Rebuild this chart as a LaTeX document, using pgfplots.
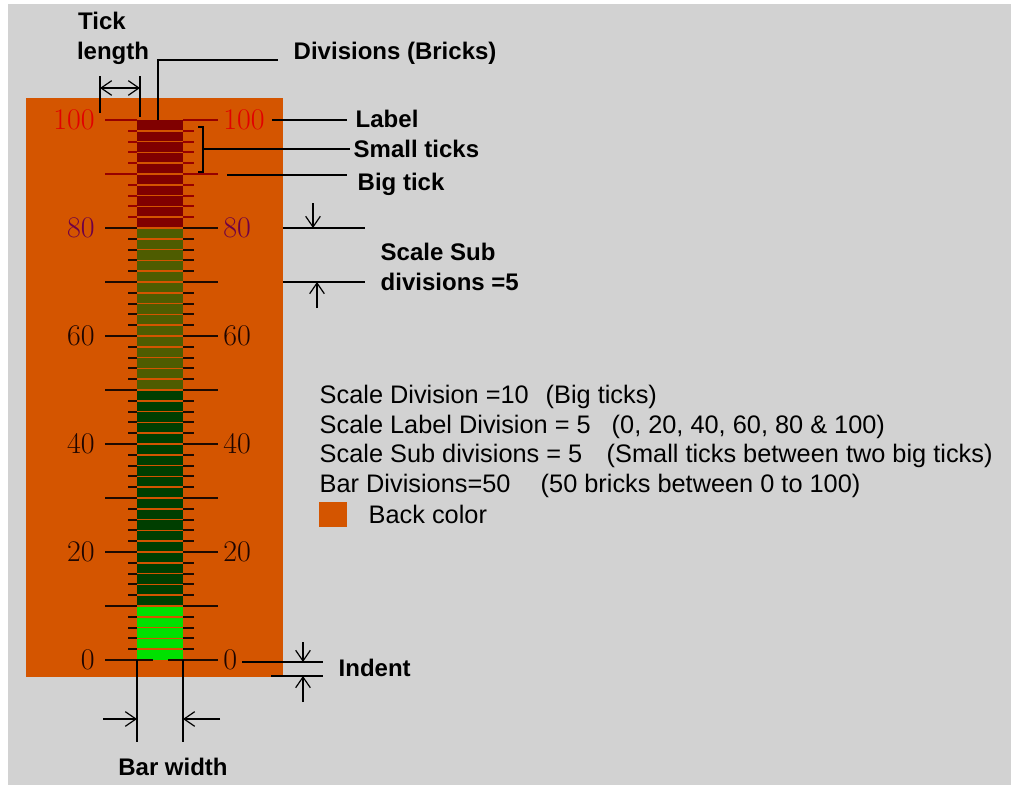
\documentclass[border=0pt]{standalone}
\usepackage{pgfplots}
\usepackage{pgfplotstable}
\pgfplotsset{compat=1.18}
\usepackage{fontspec}
\setmainfont{Liberation Sans}
\newfontfamily\lmr{Latin Modern Roman}
\usetikzlibrary{arrows.meta}
\definecolor{bg}{RGB}{210,210,210}
\definecolor{backc}{RGB}{212,85,0}
\definecolor{zred}{RGB}{128,0,0}
\definecolor{zolive}{RGB}{78,92,0}
\definecolor{zdark}{RGB}{0,62,0}
\definecolor{zlight}{RGB}{0,225,0}
\definecolor{tickred}{RGB}{150,0,0}
\definecolor{tickdark}{RGB}{30,10,0}
\definecolor{lab100}{RGB}{225,0,0}
\definecolor{lab80}{RGB}{110,0,70}
\definecolor{labdark}{RGB}{30,5,0}

% big ticks (value 0..80), left and right of the bar
\pgfplotstableread{
x y u
105 0 48
105 10 32
105 20 32
105 30 32
105 40 32
105 50 32
105 60 32
105 70 32
105 80 32
168 0 50
183 10 35
183 20 35
183 30 35
183 40 35
183 50 35
183 60 35
183 70 35
183 80 35
}\bigdark
\pgfplotstableread{
x y u
105 90 32
105 100 32
183 90 35
183 100 35
}\bigred
% small ticks
\pgfplotstableread{
y
2
4
6
8
12
14
16
18
22
24
26
28
32
34
36
38
42
44
46
48
52
54
56
58
62
64
66
68
72
74
76
78
}\smalldark
\pgfplotstableread{
y
82
84
86
88
92
94
96
98
}\smallred
% brick separators (50 bricks of 2 units)
\pgfplotstableread{
y
2
4
6
8
10
12
14
16
18
20
22
24
26
28
30
32
34
36
38
40
42
44
46
48
50
52
54
56
58
60
62
64
66
68
70
72
74
76
78
80
82
84
86
88
90
92
94
96
98
}\bricks

\newcommand\bl{\fontsize{18}{20}\selectfont\bfseries}
\newcommand\rg{\fontsize{19}{22}\selectfont}
\newcommand\dg{\lmr\fontsize{22.5}{22.5}\selectfont}
\tikzset{ar/.style={-{Straight Barb[length=8pt,width=11pt,line width=0.9pt]}}}

\begin{document}
\begin{tikzpicture}
\begin{scope}[x=0.75pt,y=-0.75pt]
\path[use as bounding box] (0,0) rectangle (1011,785);
\fill[bg] (8,4) rectangle (1011,785);
\end{scope}
\begin{axis}[at={(0,0)}, anchor=north west, scale only axis,
  width=758.25pt, height=588.75pt,
  xmin=0, xmax=1011, ymin=-23.148148, ymax=122.222222,
  hide axis, clip=false, no markers]
% back colour panel
\addplot[fill=backc, draw=none] coordinates {(26,-3.15) (283,-3.15) (283,104.07) (26,104.07)} -- cycle;
% bar zones
\addplot[fill=zlight, draw=none] coordinates {(137,0) (183,0) (183,10) (137,10)} -- cycle;
\addplot[fill=zdark, draw=none] coordinates {(137,10) (183,10) (183,50) (137,50)} -- cycle;
\addplot[fill=zolive, draw=none] coordinates {(137,50) (183,50) (183,80) (137,80)} -- cycle;
\addplot[fill=zred, draw=none] coordinates {(137,80) (183,80) (183,100) (137,100)} -- cycle;
% brick gaps
\addplot[backc, line width=1.1pt, quiver={u=46,v=0}] table[x expr=137, y=y] {\bricks};
% ticks
\addplot[tickdark, line width=1.4pt, quiver={u=\thisrow{u},v=0}] table[x=x, y=y] {\bigdark};
\addplot[tickred, line width=1.4pt, quiver={u=\thisrow{u},v=0}] table[x=x, y=y] {\bigred};
\addplot[tickdark, line width=1.4pt, quiver={u=9,v=0}] table[x expr=128, y=y] {\smalldark};
\addplot[tickdark, line width=1.4pt, quiver={u=11,v=0}] table[x expr=183, y=y] {\smalldark};
\addplot[tickred, line width=1.4pt, quiver={u=9,v=0}] table[x expr=128, y=y] {\smallred};
\addplot[tickred, line width=1.4pt, quiver={u=11,v=0}] table[x expr=183, y=y] {\smallred};
% scale labels
\foreach \v/\c in {0/labdark,20/labdark,40/labdark,60/labdark,80/lab80,100/lab100}{
  \edef\tmp{\noexpand\node[anchor=east, text=\c, font=\noexpand\dg, inner sep=0pt] at (axis cs:95,\v) {\v};
  \noexpand\node[anchor=west, text=\c, font=\noexpand\dg, inner sep=0pt] at (axis cs:223,\v) {\v};}
  \tmp
}
\end{axis}
\begin{scope}[x=0.75pt,y=-0.75pt, line width=1.1pt, black]
% Tick length
\node[anchor=base, font=\bl, inner sep=0pt] at (102,30) {Tick};
\node[anchor=base, font=\bl, inner sep=0pt] at (113,59) {length};
\draw (100,76) -- (100,113);
\draw (140,76) -- (140,117);
\draw[ar] (120,88) -- (100,88);
\draw[ar] (120,88) -- (140,88);
% Divisions (Bricks)
\draw (158,120) -- (158,60) -- (278,60);
\node[anchor=base west, font=\bl, inner sep=0pt] at (293,60) {Divisions (Bricks)};
% Label
\draw (272,120) -- (347,120);
\node[anchor=base west, font=\bl, inner sep=0pt] at (355,127) {Label};
% Small ticks
\draw (198,127) -- (203,127) -- (203,172) -- (198,172);
\draw (203,149) -- (350,149);
\node[anchor=base west, font=\bl, inner sep=0pt] at (353,157) {Small ticks};
% Big tick
\draw (227,175) -- (347,175);
\node[anchor=base west, font=\bl, inner sep=0pt] at (357,190) {Big tick};
% Scale sub divisions
\draw (283,228) -- (365,228);
\draw (283,282) -- (365,282);
\draw[ar] (313,203) -- (313,228);
\draw[ar] (317,308) -- (317,282);
\node[anchor=base west, font=\bl, inner sep=0pt] at (380,260) {Scale Sub};
\node[anchor=base west, font=\bl, inner sep=0pt] at (380,290) {divisions =5};
% Bar width
\draw (137,660) -- (137,742);
\draw (183,660) -- (183,742);
\draw[ar] (103,719) -- (137,719);
\draw[ar] (220,719) -- (183,719);
\node[anchor=base, font=\bl, inner sep=0pt] at (173,775) {Bar width};
% Indent
\draw (242,662) -- (323,662);
\draw (271,676) -- (323,676);
\draw[ar] (303,642) -- (303,662);
\draw[ar] (303,702) -- (303,676);
\node[anchor=base west, font=\bl, inner sep=0pt] at (338,676) {Indent};
% description block
\node[anchor=base west, font=\rg, inner sep=0pt] at (319,403) {Scale Division =10};
\node[anchor=base west, font=\rg, inner sep=0pt] at (545,403) {(Big ticks)};
\node[anchor=base west, font=\rg, inner sep=0pt] at (319,433) {Scale Label Division = 5};
\node[anchor=base west, font=\rg, inner sep=0pt] at (611,433) {(0, 20, 40, 60, 80 \& 100)};
\node[anchor=base west, font=\rg, inner sep=0pt] at (319,462) {Scale Sub divisions = 5};
\node[anchor=base west, font=\rg, inner sep=0pt] at (606,462) {(Small ticks between two big ticks)};
\node[anchor=base west, font=\rg, inner sep=0pt] at (319,492) {Bar Divisions=50};
\node[anchor=base west, font=\rg, inner sep=0pt] at (540,492) {(50 bricks between 0 to 100)};
\fill[backc] (319,502) rectangle (347,527);
\node[anchor=base west, font=\rg, inner sep=0pt] at (368,523) {Back color};
\end{scope}
\end{tikzpicture}
\end{document}
